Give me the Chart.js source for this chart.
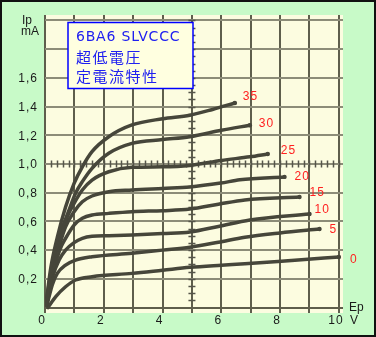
<!DOCTYPE html>
<html>
<head>
<meta charset="utf-8">
<script src="https://cdn.jsdelivr.net/npm/chart.js@4/dist/chart.umd.min.js"></script>
<style>
  html, body { margin: 0; padding: 0; background: #c8fac8; }
  canvas { display: block; }
</style>
</head>
<body>
<canvas id="chart" width="376" height="337"></canvas>
<script>
"use strict";

// grid and tick labels
const gridVolts = [0, 1, 2, 3, 4, 5, 6, 7, 8, 9, 10];
const gridMilliamps = [0, 0.2, 0.4, 0.6, 0.8, 1.0, 1.2, 1.4, 1.6, 1.8, 2.0];
const xTickValues = [0, 2, 4, 6, 8, 10];
const xTickLabels = ['0', '2', '4', '6', '8', '10'];
const yTickValues = [0.2, 0.4, 0.6, 0.8, 1.0, 1.2, 1.4, 1.6];
const yTickLabels = ['0,2', '0,4', '0,6', '0,8', '1,0', '1,2', '1,4', '1,6'];

// Ep (V), Ip (mA), one curve per grid voltage label
const curveLabels = ['35', '30', '25', '20', '15', '10', '5', '0'];
const curve35 = [[0.03, 0.02], [0.2, 0.28], [0.42, 0.49], [0.7, 0.7], [0.99, 0.865], [1.27, 0.98], [1.6, 1.086], [2.17, 1.19], [2.96, 1.272], [4.0, 1.315], [4.93, 1.34], [5.7, 1.38], [6.46, 1.425]];
const curve30 = [[0.03, 0.02], [0.22, 0.27], [0.45, 0.47], [0.82, 0.68], [1.04, 0.796], [1.27, 0.877], [1.6, 0.97], [2.17, 1.075], [2.96, 1.144], [4.0, 1.17], [4.93, 1.19], [6.0, 1.235], [6.97, 1.27]];
const curve25 = [[0.04, 0.02], [0.24, 0.26], [0.5, 0.46], [0.76, 0.633], [0.99, 0.726], [1.27, 0.819], [1.6, 0.888], [2.17, 0.946], [2.96, 0.977], [4.0, 0.98], [4.93, 0.99], [6.0, 1.025], [6.97, 1.05], [7.58, 1.07]];
const curve20 = [[0.05, 0.02], [0.25, 0.25], [0.5, 0.44], [0.7, 0.563], [0.99, 0.668], [1.27, 0.737], [1.6, 0.777], [2.17, 0.807], [2.96, 0.819], [4.0, 0.83], [4.93, 0.84], [5.98, 0.867], [6.63, 0.89], [8.15, 0.91]];
const curve15 = [[0.05, 0.02], [0.26, 0.24], [0.5, 0.4], [0.7, 0.482], [0.99, 0.575], [1.27, 0.622], [1.6, 0.645], [2.17, 0.656], [2.96, 0.668], [4.0, 0.675], [4.93, 0.686], [5.9, 0.72], [6.8, 0.75], [8.66, 0.77]];
const curve10 = [[0.06, 0.02], [0.27, 0.22], [0.48, 0.331], [0.7, 0.4], [0.99, 0.452], [1.27, 0.482], [1.6, 0.496], [2.17, 0.5], [2.96, 0.505], [4.0, 0.515], [4.93, 0.526], [5.9, 0.565], [6.97, 0.61], [9.0, 0.652]];
const curve5 = [[0.07, 0.02], [0.25, 0.16], [0.42, 0.238], [0.7, 0.296], [1.04, 0.331], [1.6, 0.354], [2.96, 0.378], [4.0, 0.4], [4.93, 0.42], [5.9, 0.455], [6.8, 0.49], [8.0, 0.52], [9.34, 0.547]];
const curve0 = [[0.1, 0.0], [0.2, 0.03], [0.36, 0.075], [0.7, 0.145], [1.04, 0.192], [1.6, 0.215], [2.96, 0.238], [4.0, 0.26], [4.93, 0.28], [6.0, 0.295], [6.8, 0.305], [8.5, 0.33], [10.0, 0.352]];
const curves = [curve35, curve30, curve25, curve20, curve15, curve10, curve5, curve0];

const titleLines = ['6BA6 SLVCCC', '超低電圧', '定電流特性'];

// pixel nudges of each red label from the end of its curve
const labelNudge = [[8, -6], [9, -2], [13, -3], [10, 0], [10, -4], [5, -4], [10, 1], [11, 3]];

const curveColor = '#46463a';

const toPoints = (pairs) => pairs.map(([x, y]) => ({ x, y }));

const paperPlugin = {
  id: 'paper',
  beforeDraw: (chart) => {
    const { ctx, chartArea: a } = chart;
    ctx.save();
    ctx.fillStyle = '#c8fac8';
    ctx.fillRect(0, 0, chart.width, chart.height);
    ctx.fillStyle = '#fcfce0';
    ctx.fillRect(a.left, a.top, a.right - a.left, a.bottom - a.top);
    ctx.restore();
  },
  beforeDatasetsDraw: (chart) => {
    // small graduation marks along Ip = 1.0 and Ep = 5
    const { ctx, scales: { x, y } } = chart;
    ctx.save();
    ctx.strokeStyle = '#55554a';
    ctx.lineWidth = 1.5;
    ctx.beginPath();
    const y1 = y.getPixelForValue(1.0);
    for (let v = 0.2; v < 10.15; v += 0.2) {
      const px = Math.round(x.getPixelForValue(v)) + 0.5;
      ctx.moveTo(px, y1 - 3.5);
      ctx.lineTo(px, y1 + 3.5);
    }
    const x5 = x.getPixelForValue(5);
    for (let v = 0.05; v < 2.03; v += 0.05) {
      const py = Math.round(y.getPixelForValue(v)) + 0.5;
      ctx.moveTo(x5 - 3.5, py);
      ctx.lineTo(x5 + 3.5, py);
    }
    ctx.stroke();
    ctx.restore();
  },
  afterDraw: (chart) => {
    const { ctx, scales: { x, y } } = chart;
    ctx.save();

    // axis labels
    ctx.fillStyle = '#1a1a1a';
    ctx.font = '12px "Liberation Sans", Arial, sans-serif';
    ctx.letterSpacing = '1px';
    ctx.textBaseline = 'middle';
    ctx.textAlign = 'right';
    yTickValues.forEach((v, i) => {
      ctx.fillText(yTickLabels[i], 38, y.getPixelForValue(v) + 1);
    });
    ctx.textAlign = 'center';
    xTickValues.forEach((v, i) => {
      ctx.fillText(xTickLabels[i], x.getPixelForValue(v) - 3, 321);
    });

    ctx.textAlign = 'left';
    ctx.textBaseline = 'alphabetic';
    ctx.letterSpacing = '0px';
    ctx.fillText('Ip', 22, 24);
    ctx.fillText('mA', 21, 35);
    ctx.fillText('Ep', 349, 311);
    ctx.fillText('V', 350, 324);

    // curve labels in red
    ctx.fillStyle = '#ff2020';
    ctx.letterSpacing = '1px';
    ctx.textBaseline = 'middle';
    curves.forEach((pairs, i) => {
      const [ex, ey] = pairs[pairs.length - 1];
      const [dx, dy] = labelNudge[i];
      ctx.fillText(curveLabels[i], x.getPixelForValue(ex) + dx, y.getPixelForValue(ey) + dy);
    });

    // title box
    ctx.fillStyle = '#ffffe0';
    ctx.fillRect(68, 22, 125, 66);
    ctx.strokeStyle = '#0000ff';
    ctx.lineWidth = 1.5;
    ctx.strokeRect(68, 22.5, 125, 66);
    ctx.fillStyle = '#2020f0';
    ctx.textBaseline = 'alphabetic';
    ctx.font = '14px "DejaVu Sans", sans-serif';
    ctx.letterSpacing = '0.8px';
    ctx.fillText(titleLines[0], 76, 41);
    ctx.font = '15px "Noto Sans CJK JP", sans-serif';
    ctx.letterSpacing = '1.5px';
    ctx.textBaseline = 'middle';
    ctx.fillText(titleLines[1], 76, 57);
    ctx.fillText(titleLines[2], 76, 76);

    // outer frame
    ctx.letterSpacing = '0px';
    ctx.strokeStyle = '#111111';
    ctx.lineWidth = 2;
    ctx.strokeRect(1, 1, chart.width - 2, chart.height - 2);
    ctx.restore();
  },
};

new Chart(document.getElementById('chart'), {
  type: 'scatter',
  data: {
    datasets: curves.map((pairs, i) => ({
      label: curveLabels[i],
      data: toPoints(pairs),
      showLine: true,
      borderColor: curveColor,
      backgroundColor: curveColor,
      borderWidth: 3.5,
      borderCapStyle: 'round',
      cubicInterpolationMode: 'monotone',
      pointRadius: (ctx) => (ctx.dataIndex === pairs.length - 1 ? 2.2 : 0),
      pointBorderWidth: 0,
    })),
  },
  plugins: [paperPlugin],
  options: {
    responsive: false,
    devicePixelRatio: 1,
    animation: false,
    layout: {
      padding: { left: 45, right: 33, top: 15, bottom: 24 },
    },
    scales: {
      x: {
        type: 'linear',
        min: 0,
        max: 10.14,
        ticks: { display: false },
        border: { display: false },
        grid: { color: '#5e5e4c', lineWidth: 2, drawTicks: false },
        afterBuildTicks: (scale) => {
          scale.ticks = gridVolts.map((value) => ({ value }));
        },
      },
      y: {
        type: 'linear',
        min: -0.038,
        max: 2.038,
        ticks: { display: false },
        border: { display: false },
        grid: {
          color: (ctx) => (ctx.tick && ctx.tick.value === 0 ? '#5e5e4c' : '#8c8c78'),
          lineWidth: 2,
          drawTicks: false,
        },
        afterBuildTicks: (scale) => {
          scale.ticks = gridMilliamps.map((value) => ({ value }));
        },
      },
    },
    plugins: {
      legend: { display: false },
      tooltip: { enabled: false },
    },
  },
});
</script>
</body>
</html>
